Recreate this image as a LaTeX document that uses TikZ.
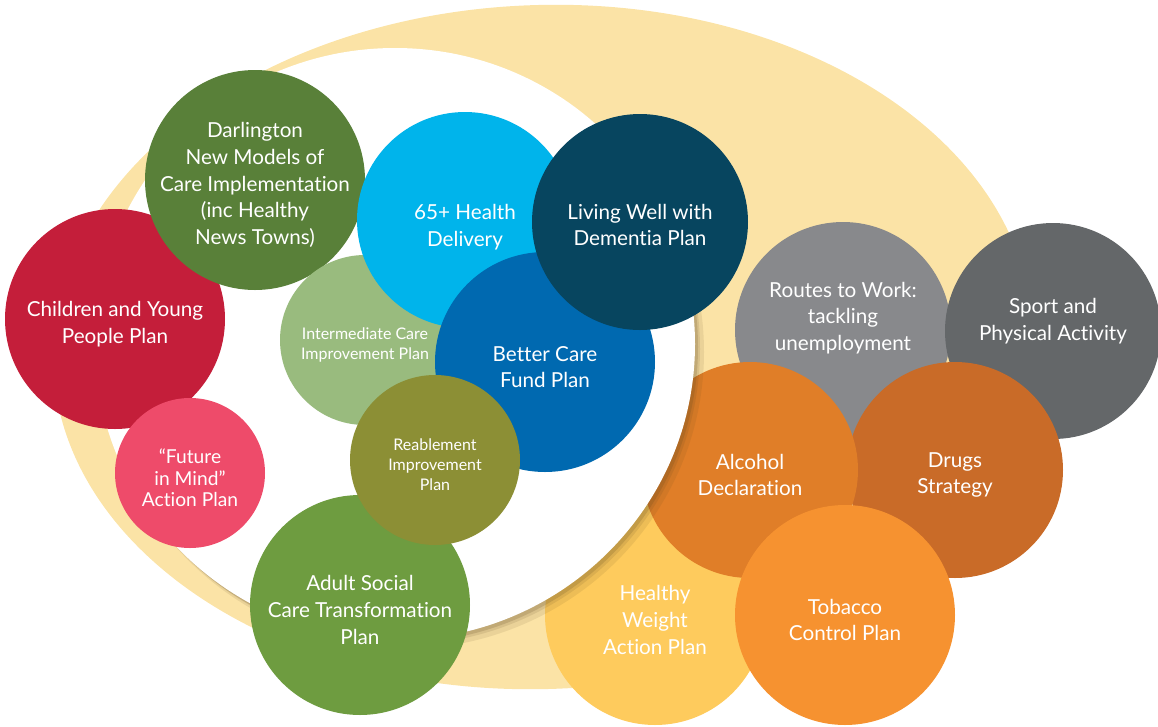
\documentclass[tikz,border=0pt]{standalone}
\usepackage{fontspec}
\setmainfont{Lato}[Ligatures={NoCommon}]

\definecolor{bandyellow}{RGB}{251,227,166}
\definecolor{darlgreen}{RGB}{89,128,57}
\definecolor{childred}{RGB}{196,30,58}
\definecolor{futurepink}{RGB}{238,75,106}
\definecolor{intergreen}{RGB}{153,187,126}
\definecolor{healthcyan}{RGB}{0,180,235}
\definecolor{dementianavy}{RGB}{7,69,95}
\definecolor{betterblue}{RGB}{0,105,176}
\definecolor{reableolive}{RGB}{140,143,53}
\definecolor{adultgreen}{RGB}{110,156,64}
\definecolor{weightyellow}{RGB}{254,203,93}
\definecolor{alcoholorange}{RGB}{224,126,40}
\definecolor{drugsorange}{RGB}{201,107,40}
\definecolor{tobaccoorange}{RGB}{246,146,48}
\definecolor{routesgrey}{RGB}{136,137,140}
\definecolor{sportgrey}{RGB}{100,103,105}
\definecolor{shadowbrown}{RGB}{90,70,30}

\tikzset{every picture/.style={line width=0.75pt}}

\begin{document}
\begin{tikzpicture}[x=0.75pt,y=0.75pt,yscale=-1,xscale=1,
  plan/.style={circle, fill=#1, inner sep=0pt, minimum size=162pt},
  big plan/.style={plan=#1, minimum size=165pt},
  small plan/.style={plan=#1, minimum size=127.5pt},
  mid plan/.style={plan=#1, minimum size=112.5pt},
  plan text/.style={text=white, align=center, yshift=-3.75pt, font=\fontsize{15.5}{20}\selectfont},
  small text/.style={plan text, font=\fontsize{12}{15}\selectfont},
  mid text/.style={plan text, font=\fontsize{14.4}{16}\selectfont}]
\useasboundingbox (0,0) rectangle (1158,726);

%Shape: outer band
\fill [bandyellow, rotate around={-2:(543,347)}] (543,347) ellipse [x radius=490, y radius=342];

%outer circles
\node [plan=routesgrey, label={[plan text, yshift=12.75pt]center:Routes to Work:\\tackling\\unemployment}] (routes) at (843,330) {};
\node [plan=sportgrey, label={[plan text, yshift=11pt]center:Sport and\\Physical Activity}] (sport) at (1053,331) {};
\node [plan=drugsorange, label={[plan text]center:Drugs\\Strategy}] (drugs) at (955,470) {};
\node [big plan=weightyellow, label={[plan text]center:Healthy\\Weight\\Action Plan}] (weight) at (655,615) {};
\node [plan=alcoholorange, label={[plan text]center:Alcohol\\Declaration}] (alcohol) at (750,470) {};
\node [big plan=tobaccoorange, label={[plan text]center:Tobacco\\Control Plan}] (tobacco) at (845,615) {};

%Shape: inner white ellipse with its shadow
\fill [shadowbrown, opacity=0.10] (403,352) ellipse [x radius=301, y radius=297];
\fill [shadowbrown, opacity=0.12] (400,349) ellipse [x radius=300, y radius=296];
\fill [shadowbrown, opacity=0.18] (398,347) ellipse [x radius=300, y radius=296];
\fill [white] (395,344) ellipse [x radius=300, y radius=296];

%inner circles
\node [big plan=childred, label={[plan text]center:Children and Young\\People Plan}] (children) at (115,319) {};
\node [big plan=darlgreen, label={[plan text]center:Darlington\\New Models of\\Care Implementation\\(inc Healthy\\News Towns)}] (darlington) at (255,180) {};
\node [mid plan=futurepink, label={[mid text]center:“Future\\in Mind”\\Action Plan}] (future) at (190,473) {};
\node [small plan=intergreen, label={[small text]center:Intermediate Care\\Improvement Plan}] (intermediate) at (365,340) {};
\node [plan=healthcyan, label={[plan text, yshift=-1.5pt]center:65+ Health\\Delivery}] (health) at (465,220) {};
\node [big plan=betterblue, label={[plan text]center:Better Care\\Fund Plan}] (bettercare) at (545,362) {};
\node [plan=dementianavy, label={[plan text, yshift=1.5pt]center:Living Well with\\Dementia Plan}] (dementia) at (640,222) {};
\node [big plan=adultgreen, label={[plan text]center:Adult Social\\Care Transformation\\Plan}] (adult) at (360,605) {};
\node [small plan=reableolive, label={[small text]center:Reablement\\Improvement\\Plan}] (reablement) at (435,460) {};

\end{tikzpicture}
\end{document}
